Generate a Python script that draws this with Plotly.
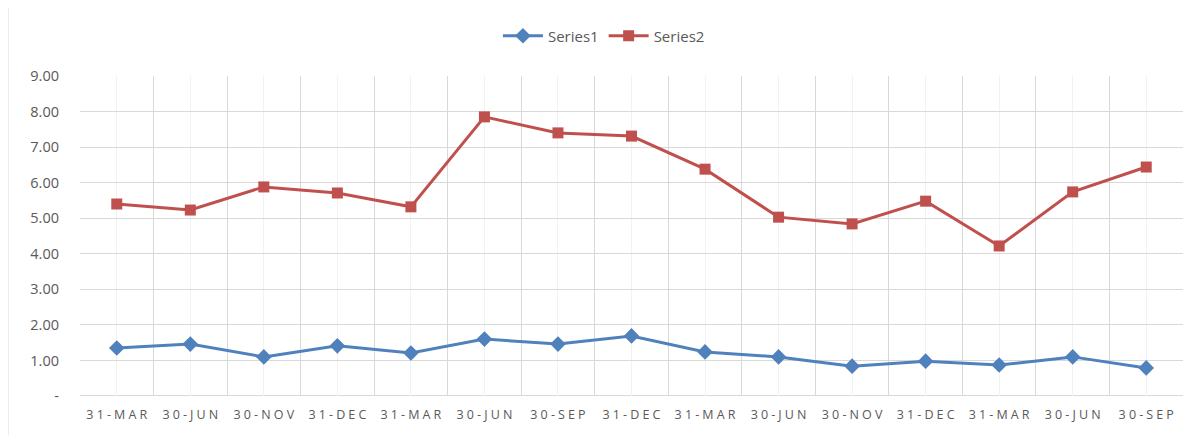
import plotly.graph_objects as go

categories = ["31-MAR", "30-JUN", "30-NOV", "31-DEC", "31-MAR", "30-JUN", "30-SEP", "31-DEC",
              "31-MAR", "30-JUN", "30-NOV", "31-DEC", "31-MAR", "30-JUN", "30-SEP"]
series1 = [1.35, 1.46, 1.10, 1.41, 1.21, 1.60, 1.46, 1.69, 1.24, 1.10, 0.84, 0.98, 0.87, 1.10, 0.79]
series2 = [5.40, 5.23, 5.88, 5.71, 5.32, 7.85, 7.40, 7.31, 6.38, 5.03, 4.84, 5.48, 4.22, 5.74, 6.44]
y_ticks = [0, 1, 2, 3, 4, 5, 6, 7, 8, 9]
y_labels = ["-"] + [f"{v:.2f}" for v in y_ticks[1:]]

idx = list(range(len(categories)))
spaced = ["\u2005".join(c) for c in categories]

fig = go.Figure()
fig.add_trace(go.Scatter(x=idx, y=series1, name="Series1", mode="lines+markers",
                         line=dict(color="#4F81BD", width=3),
                         marker=dict(symbol="diamond", size=12, color="#4F81BD")))
fig.add_trace(go.Scatter(x=idx, y=series2, name="Series2", mode="lines+markers",
                         line=dict(color="#C0504D", width=3),
                         marker=dict(symbol="square", size=11, color="#C0504D")))

fig.update_layout(
    width=1192, height=435,
    margin=dict(l=72, r=17, t=68, b=47),
    paper_bgcolor="white", plot_bgcolor="white",
    font=dict(family="Open Sans, Liberation Sans, sans-serif", color="#595959", size=13),
    showlegend=True,
    legend=dict(orientation="h", x=0.475, xanchor="center", y=1.125, yanchor="middle",
                font=dict(size=15, color="#595959"), itemwidth=40),
    xaxis=dict(range=[-0.5, len(categories) - 0.5], tickmode="array", tickvals=idx, ticktext=spaced,
               showgrid=True, gridcolor="#F2F2F2", gridwidth=1, zeroline=False,
               ticks="", showline=False, tickfont=dict(size=12.5, color="#595959"),
               ticklabelstandoff=9,
               minor=dict(tickmode="linear", tick0=-0.5, dtick=1, showgrid=True,
                          gridcolor="#D9D9D9", gridwidth=1, ticks=""),
               fixedrange=True),
    yaxis=dict(range=[0, 9], tickmode="array", tickvals=y_ticks, ticktext=y_labels,
               showgrid=True, gridcolor="#D9D9D9", gridwidth=1, zeroline=False,
               showline=False, ticks="", ticklabelstandoff=20,
               tickfont=dict(size=14.5, color="#595959"), fixedrange=True),
)

# bottom axis line
fig.add_shape(type="line", xref="paper", yref="y", x0=0, x1=1, y0=0, y1=0,
              line=dict(color="#D9D9D9", width=2), layer="below")
# chart area border
fig.add_shape(type="rect", xref="paper", yref="paper", x0=-0.0653, x1=1.02, y0=-0.2, y1=1.2156,
              line=dict(color="#D9D9D9", width=1), fillcolor="rgba(0,0,0,0)", layer="below")

fig.write_html("out.html")
